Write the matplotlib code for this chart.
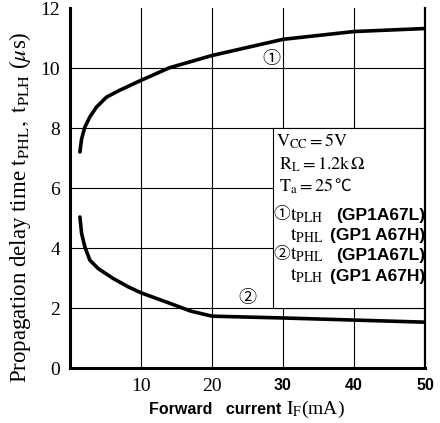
import matplotlib.pyplot as plt
from matplotlib.patches import Rectangle

plt.rcParams["font.family"] = ["Liberation Serif", "Noto Sans CJK JP", "DejaVu Sans"]
plt.rcParams["mathtext.fontset"] = "stix"

# forward current (mA) and delay times (us)
if_1 = [1.4, 1.64, 2.1, 2.8, 3.74, 5.14, 7, 10, 14, 20, 30, 40, 50]
t_1 = [7.21, 7.65, 8.04, 8.38, 8.71, 9.04, 9.27, 9.6, 10.02, 10.43, 10.97, 11.23, 11.33]
if_2 = [1.4, 1.64, 2.1, 2.8, 3.97, 6.07, 8.2, 10, 13.6, 17, 20, 30, 40, 50]
t_2 = [5.04, 4.49, 4.04, 3.6, 3.32, 2.99, 2.71, 2.51, 2.2, 1.9, 1.73, 1.67, 1.6, 1.53]

x_ticks = [10, 20, 30, 40, 50]
y_ticks = [0, 2, 4, 6, 8, 10, 12]

fig = plt.figure(figsize=(4.4, 4.23), dpi=100)
ax = fig.add_axes([0.159, 0.13, 0.807, 0.85])
ax.set_xlim(0, 50)
ax.set_ylim(0, 12)

for x in [10, 20, 30, 40]:
    ax.axvline(x, color="black", lw=0.8, zorder=1)
for y in [2, 4, 6, 8, 10]:
    ax.axhline(y, color="black", lw=0.8, zorder=1)

ax.add_patch(Rectangle((28.6, 2.0), 21.4, 6.0, facecolor="white",
                       edgecolor="black", lw=0.8, zorder=2))

ax.plot(if_1, t_1, color="black", lw=2.6, zorder=3, solid_capstyle="round",
        solid_joinstyle="round")
ax.plot(if_2, t_2, color="black", lw=2.6, zorder=3, solid_capstyle="round",
        solid_joinstyle="round")

ax.spines["top"].set_visible(False)
ax.spines["left"].set_linewidth(2.2)
ax.spines["bottom"].set_linewidth(2.2)
ax.spines["right"].set_linewidth(1.6)

ax.set_xticks(x_ticks)
ax.set_yticks(y_ticks)
ax.tick_params(length=0, pad=7, labelsize=14)
ax.set_yticklabels([str(v) for v in y_ticks])
xl = ax.set_xticklabels([str(v) for v in x_ticks])
for lab in xl[2:]:
    lab.set_family("Liberation Sans")
    lab.set_fontweight("bold")
    lab.set_fontsize(11.5)

ax.text(28.3, 10.3, "①", fontsize=13, ha="center", va="center", zorder=4)
ax.text(25.0, 2.33, "②", fontsize=13, ha="center", va="center", zorder=4)

ax.text(29.0, 7.55, r"$\mathrm{V_{CC}=5V}$", fontsize=13, va="center", zorder=4)
ax.text(29.5, 6.8, r"$\mathrm{R_L=1.2k\,\Omega}$", fontsize=13, va="center", zorder=4)
ta = ax.text(29.5, 6.05, r"$\mathrm{T_a=25}$", fontsize=13, va="center", zorder=4)
fig.canvas.draw()
bb = ta.get_window_extent().transformed(ax.transData.inverted())
ax.text(bb.x1 + 0.1, 6.05, "℃", fontsize=12, family=["Noto Sans CJK JP"],
        va="center", zorder=4)

rows = [(5.1, "①", "PLH", "(GP1A67L)"),
        (4.43, "", "PHL", "(GP1 A67H)"),
        (3.77, "②", "PHL", "(GP1A67L)"),
        (3.07, "", "PLH", "(GP1 A67H)")]
for y, circ, sub, part in rows:
    if circ:
        ax.text(28.7, y, circ, fontsize=12, va="center", zorder=4)
    ax.text(31.0, y, r"$\mathrm{t_{%s}}$" % sub, fontsize=14,
            va="center", zorder=4)
    ax.text(50, y, part, fontsize=12.5, family="Liberation Sans",
            fontweight="bold", ha="right", va="center", zorder=4)

fig.text(0.045, 0.51, r"Propagation delay time $\mathrm{t_{PHL},\ t_{PLH}}$ ($\mu$s)",
         rotation=90, ha="center", va="center", fontsize=16.5)
fig.text(0.64, 0.033, "Forward   current", family="Liberation Sans",
         fontweight="bold", fontsize=11.5, ha="right", va="center")
fig.text(0.65, 0.033, r"$\mathrm{I_F}$(mA)", fontsize=14, ha="left", va="center")

fig.savefig("out.png", dpi=100)
